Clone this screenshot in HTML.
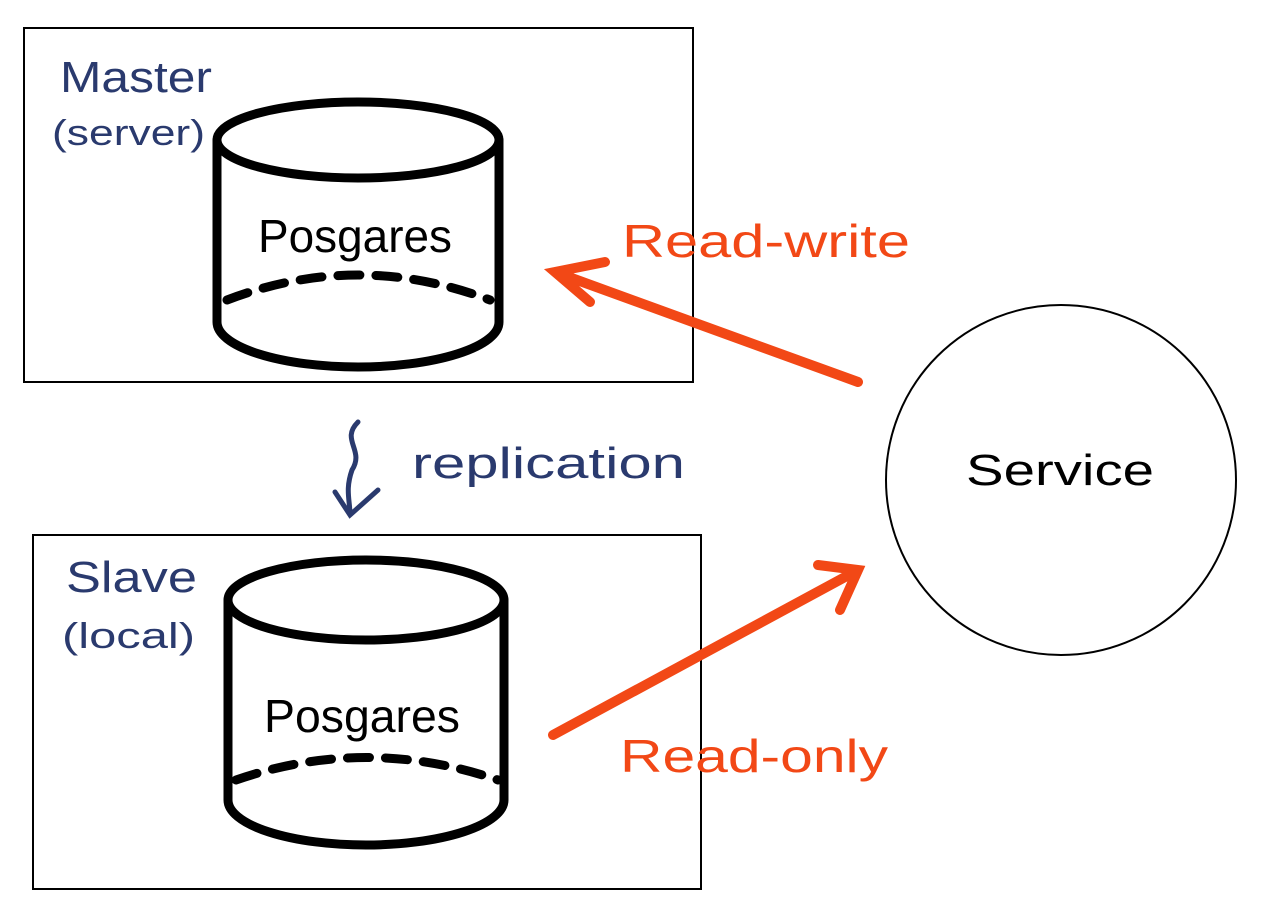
<!DOCTYPE html>
<html><head><meta charset="utf-8"><style>
html,body{margin:0;padding:0;background:#fff;}
svg{display:block}
text{font-family:"Liberation Sans",sans-serif}
</style></head><body>
<svg width="1265" height="914" viewBox="0 0 1265 914" xmlns="http://www.w3.org/2000/svg">
<rect x="24" y="28" width="669" height="354" fill="none" stroke="#000" stroke-width="2"/>
<rect x="33" y="535" width="668" height="354" fill="none" stroke="#000" stroke-width="2"/>
<circle cx="1061" cy="480" r="175" fill="none" stroke="#000" stroke-width="2"/>
<text x="966" y="485" font-size="44" textLength="188" lengthAdjust="spacingAndGlyphs" fill="#000">Service</text>

<g fill="none" stroke="#000" stroke-width="9" stroke-linecap="round">
<ellipse cx="358" cy="140" rx="141" ry="38"/>
<path d="M217 140 L217 322 A141 45 0 0 0 499 322 L499 140"/>
<path d="M227 300 Q358 250 490 300" stroke-dasharray="22 16"/>
<ellipse cx="366" cy="600" rx="138" ry="40"/>
<path d="M228 600 L228 800 A138 45 0 0 0 504 800 L504 600"/>
<path d="M236 780 Q366 735 498 780" stroke-dasharray="22 16"/>
</g>
<text x="258" y="252" font-size="46" textLength="194" lengthAdjust="spacingAndGlyphs" fill="#000">Posgares</text>
<text x="264" y="732" font-size="46" textLength="196" lengthAdjust="spacingAndGlyphs" fill="#000">Posgares</text>

<text x="60" y="92" font-size="44" textLength="152" lengthAdjust="spacingAndGlyphs" fill="#2a3a6e">Master</text>
<text x="52" y="145" font-size="36" textLength="153" lengthAdjust="spacingAndGlyphs" fill="#2a3a6e">(server)</text>
<text x="66" y="592" font-size="44" textLength="131" lengthAdjust="spacingAndGlyphs" fill="#2a3a6e">Slave</text>
<text x="62" y="648" font-size="36" textLength="133" lengthAdjust="spacingAndGlyphs" fill="#2a3a6e">(local)</text>
<text x="412" y="478" font-size="44" textLength="273" lengthAdjust="spacingAndGlyphs" fill="#2a3a6e">replication</text>
<path d="M358 422 C340 440 365 450 352 470 C345 490 350 500 350 515 M335 492 L350 515 L378 490" fill="none" stroke="#2a3a6e" stroke-width="5" stroke-linecap="round"/>

<g stroke="#F24816" stroke-width="10" stroke-linecap="round" fill="none">
<path d="M858 382 L555 272 M605 262 L555 272 L590 302"/>
<path d="M553 735 L858 570 M818 565 L858 570 L840 610"/>
</g>
<text x="622" y="257" font-size="46" textLength="288" lengthAdjust="spacingAndGlyphs" fill="#F24816">Read-write</text>
<text x="620" y="772" font-size="46" textLength="268" lengthAdjust="spacingAndGlyphs" fill="#F24816">Read-only</text>
</svg>
</body></html>
